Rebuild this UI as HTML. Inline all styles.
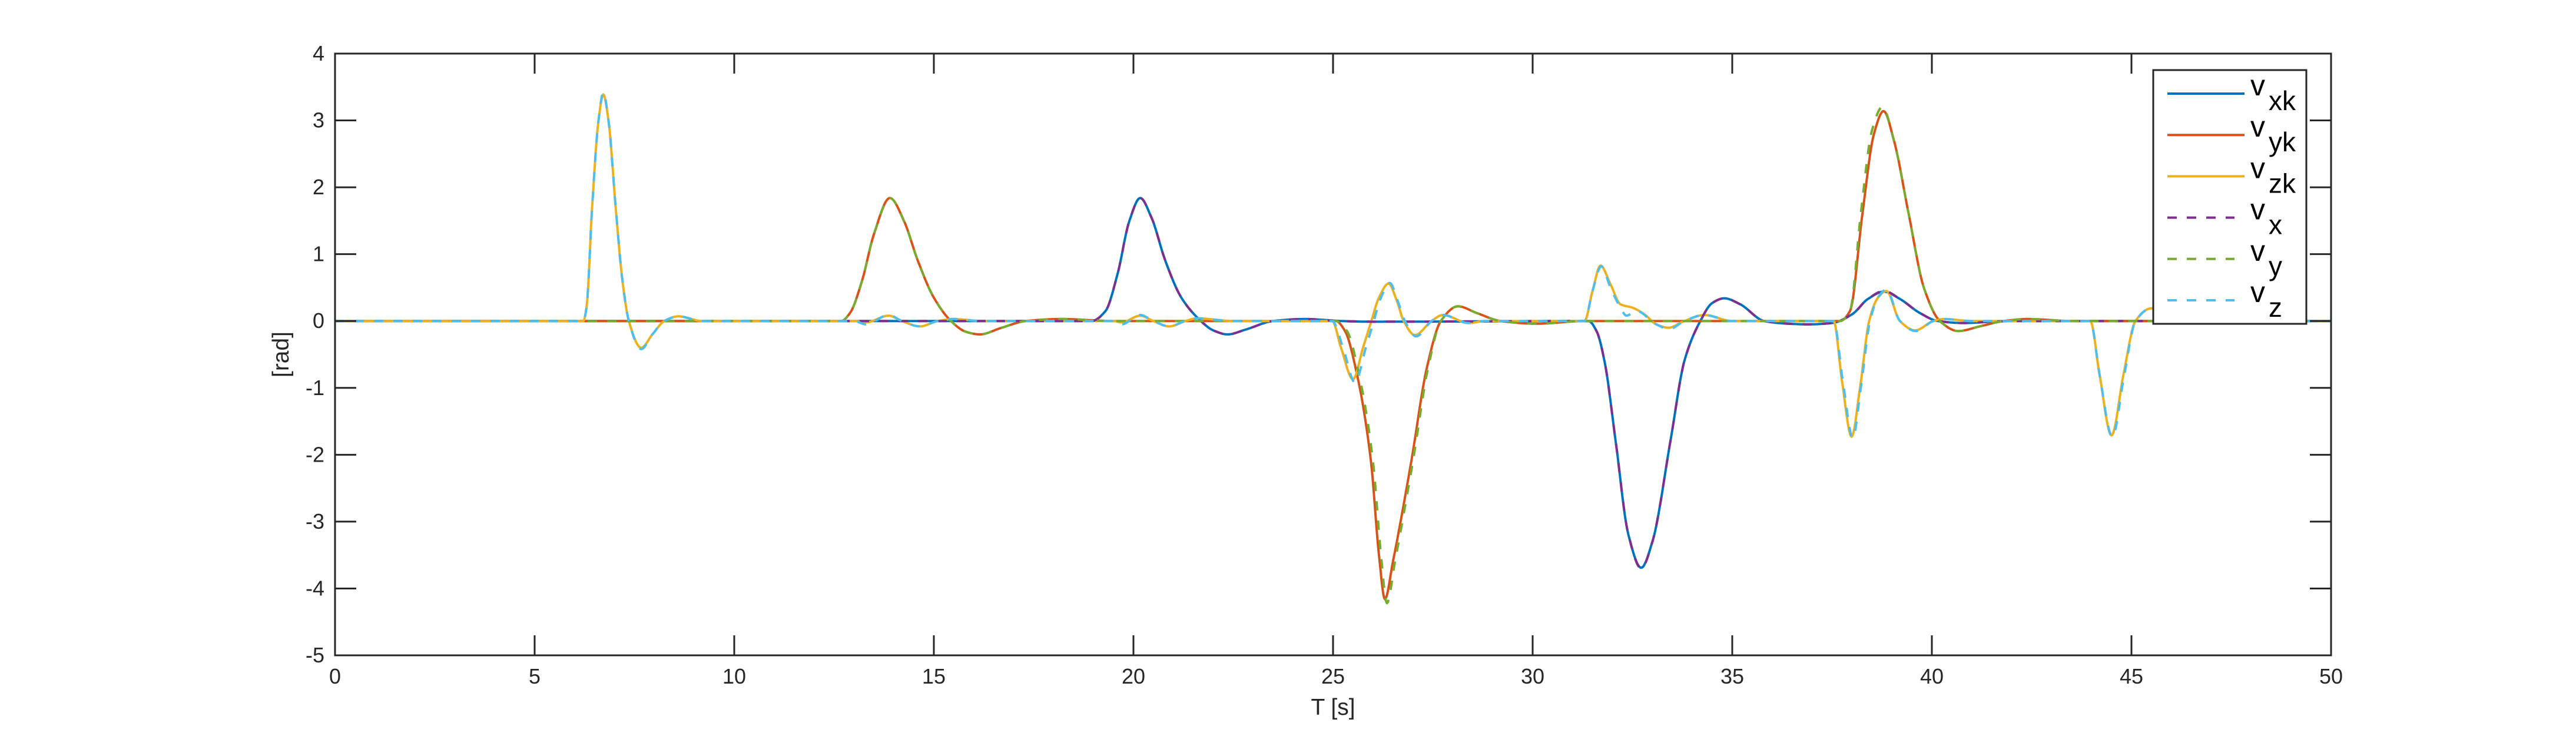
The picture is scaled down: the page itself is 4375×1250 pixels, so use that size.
<!DOCTYPE html>
<html><head><meta charset="utf-8"><style>
html,body{margin:0;padding:0;background:#fff}
svg{display:block;font-family:"Liberation Sans",sans-serif}
</style></head><body>
<svg id="chart" width="4375" height="1250" viewBox="0 0 4375 1250" xmlns="http://www.w3.org/2000/svg">
<defs><clipPath id="plotclip"><rect x="569" y="91" width="3390" height="1022"/></clipPath></defs>
<rect x="0" y="0" width="4375" height="1250" fill="#fff"/>
<g id="series" clip-path="url(#plotclip)"></g>
<g id="axes"></g>
<g id="legend"></g>
</svg>
<script>
const xTicks = [0,5,10,15,20,25,30,35,40,45,50];
const yTicks = [4,3,2,1,0,-1,-2,-3,-4,-5];
const xLabel = "T [s]";
const yLabel = "[rad]";

const vxkT = [0,18.95,19.3,19.6,19.9,20.17,20.45,20.8,21.2,21.69,22.0,22.36,22.8,23.5,24.3,25.2,26,31.4,31.6,31.8,32.08,32.4,32.72,33.0,33.45,33.8,34.2,34.5,34.8,35.2,35.8,36.4,36.9,37.5,38.0,38.4,38.8,39.2,39.7,40.15,40.8,41.5,42,50];
const vxkV = [0,0,0.15,0.7,1.5,1.84,1.55,0.9,0.35,0,-0.14,-0.2,-0.13,0,0.03,0,-0.01,0,-0.15,-0.6,-1.8,-3.2,-3.69,-3.3,-1.8,-0.6,0,0.27,0.34,0.25,0,-0.04,-0.05,-0.03,0.1,0.33,0.44,0.33,0.12,0,-0.03,-0.01,0,0];

const vykT = [0,12.68,12.9,13.2,13.5,13.9,14.25,14.6,15.0,15.43,15.8,16.15,16.7,17.3,18.2,19.5,25.07,25.3,25.6,25.95,26.15,26.3,26.5,26.96,27.35,27.7,28.13,28.6,29.2,30.1,31.3,37.7,37.95,38.26,38.55,38.79,39.05,39.42,39.8,40.2,40.66,41.2,41.8,42.4,43.5,50];
const vykV = [0,0,0.12,0.6,1.3,1.84,1.5,0.9,0.35,0,-0.16,-0.2,-0.1,0,0.03,0,0,-0.15,-0.8,-2.1,-3.5,-4.16,-3.6,-2.1,-0.7,0,0.22,0.12,0,-0.04,0,0,0.15,1.6,2.8,3.14,2.7,1.6,0.5,0,-0.15,-0.08,0,0.03,0,0];

const vzkT = [0,6.22,6.3,6.44,6.6,6.72,6.85,7.03,7.2,7.36,7.67,7.95,8.25,8.6,9.2,13.0,13.3,13.87,14.2,14.65,15.1,15.5,16.2,19.5,19.7,20.17,20.5,20.9,21.3,21.6,22.5,24.98,25.2,25.5,25.75,25.96,26.15,26.39,26.6,26.77,27.05,27.47,27.75,28.4,28.8,31.3,31.5,31.7,31.95,32.2,32.5,32.8,33.1,33.4,33.8,34.3,35.0,37.54,37.75,37.99,38.2,38.43,38.65,38.86,39.2,39.58,40.04,40.3,41,43.97,44.2,44.5,44.8,45.1,45.5,46.0,46.5,50];
const vzkV = [0,0,0.2,1.7,3.0,3.39,3.0,1.7,0.6,0,-0.4,-0.2,0,0.07,0,0,-0.02,0.08,0,-0.08,0,0.03,0,0,-0.02,0.08,0,-0.08,0,0.04,0,0,-0.4,-0.87,-0.4,0,0.35,0.56,0.3,0,-0.21,0,0.09,-0.03,0,0,0.45,0.83,0.55,0.25,0.2,0.1,-0.05,-0.1,0,0.09,0,0,-0.9,-1.73,-1.0,0,0.35,0.45,0,-0.14,0,0.03,0,0,-0.8,-1.71,-0.8,0,0.19,0.05,0,0];

const vxT = [0,18.95,19.3,19.6,19.9,20.17,20.45,20.8,21.2,21.69,22.0,22.36,22.8,23.5,24.3,25.2,26,31.4,31.6,31.8,32.08,32.4,32.72,33.0,33.45,33.8,34.2,34.5,34.8,35.2,35.8,36.4,36.9,37.5,38.0,38.4,38.8,39.2,39.7,40.15,40.8,41.5,42,50];
const vxV = [0,0,0.15,0.7,1.5,1.84,1.55,0.9,0.35,0,-0.14,-0.2,-0.13,0,0.03,0,-0.01,0,-0.15,-0.6,-1.8,-3.2,-3.7,-3.3,-1.8,-0.6,0,0.27,0.34,0.25,0,-0.04,-0.05,-0.03,0.1,0.33,0.45,0.33,0.12,0,-0.03,-0.01,0,0];

const vyT = [0,12.68,12.9,13.2,13.5,13.9,14.25,14.6,15.0,15.43,15.8,16.15,16.7,17.3,18.2,19.5,25.07,25.35,25.65,26.0,26.2,26.35,26.55,27.0,27.38,27.7,28.13,28.6,29.2,30.1,31.3,37.7,37.95,38.22,38.5,38.76,39.05,39.42,39.8,40.2,40.66,41.2,41.8,42.4,43.5,50];
const vyV = [0,0,0.12,0.6,1.3,1.84,1.5,0.9,0.35,0,-0.16,-0.2,-0.1,0,0.03,0,0,-0.15,-0.8,-2.1,-3.5,-4.22,-3.6,-2.1,-0.7,0,0.22,0.12,0,-0.04,0,0,0.15,1.6,2.85,3.2,2.7,1.6,0.5,0,-0.15,-0.08,0,0.03,0,0];

const vzT = [0,6.22,6.3,6.44,6.6,6.72,6.85,7.03,7.2,7.36,7.67,7.95,8.25,8.6,9.2,13.0,13.3,13.87,14.2,14.65,15.1,15.5,16.2,19.5,19.7,20.17,20.5,20.9,21.3,21.6,22.5,24.98,25.25,25.55,25.82,26.02,26.2,26.42,26.62,26.8,27.08,27.47,27.75,28.4,28.8,31.3,31.5,31.72,31.95,32.2,32.35,32.6,33.1,33.42,33.8,34.3,35.0,37.54,37.77,38.02,38.22,38.45,38.65,38.86,39.2,39.6,40.04,40.3,41,43.97,44.2,44.52,44.82,45.1,45.5,46.0,46.5,50];
const vzV = [0,0,0.2,1.7,3.0,3.42,3.0,1.7,0.6,0,-0.42,-0.2,0,0.07,0,0,-0.05,0.09,0,-0.08,0,0.03,0,0,-0.05,0.09,0,-0.08,0,0.04,0,0,-0.4,-0.92,-0.4,0,0.35,0.57,0.3,0,-0.23,0,0.09,-0.03,0,0,0.45,0.82,0.5,0.2,0.08,0.15,-0.05,-0.12,0,0.09,0,0,-0.9,-1.75,-1.0,0,0.35,0.47,0,-0.15,0,0.03,0,0,-0.8,-1.73,-0.8,0,0.19,0.05,0,0];

const L=569,R=3959,T=91,B=1113;
function xs(t){return L+(t-0)/(50-0)*(R-L);}
function ys(v){return B-(v-(-5))/(4-(-5))*(B-T);}
const NS="http://www.w3.org/2000/svg";
function mk(tag,attrs,parent){const e=document.createElementNS(NS,tag);for(const k in attrs)e.setAttribute(k,attrs[k]);parent.appendChild(e);return e;}

function monotone(ts,vs){
  const n=ts.length,d=[],m=new Array(n).fill(0);
  for(let i=0;i<n-1;i++)d.push((vs[i+1]-vs[i])/(ts[i+1]-ts[i]));
  m[0]=d[0];m[n-1]=d[n-2];
  for(let i=1;i<n-1;i++){
    if(d[i-1]*d[i]<=0)m[i]=0;
    else{const h0=ts[i]-ts[i-1],h1=ts[i+1]-ts[i];const w1=2*h1+h0,w2=h1+2*h0;m[i]=(w1+w2)/(w1/d[i-1]+w2/d[i]);}
  }
  const pts=[];
  for(let i=0;i<n-1;i++){
    const h=ts[i+1]-ts[i],steps=Math.max(2,Math.ceil(h*40));
    for(let s=0;s<steps;s++){
      const u=s/steps,h00=2*u*u*u-3*u*u+1,h10=u*u*u-2*u*u+u,h01=-2*u*u*u+3*u*u,h11=u*u*u-u*u;
      const v=h00*vs[i]+h10*h*m[i]+h01*vs[i+1]+h11*h*m[i+1];
      pts.push(xs(ts[i]+u*h).toFixed(1)+","+ys(v).toFixed(1));
    }
  }
  pts.push(xs(ts[n-1]).toFixed(1)+","+ys(vs[n-1]).toFixed(1));
  return pts.join(" ");
}

const sg=document.getElementById('series');
const series=[
 {name:'vxk',t:vxkT,v:vxkV,c:'#0072BD',dash:null},
 {name:'vyk',t:vykT,v:vykV,c:'#D95319',dash:null},
 {name:'vzk',t:vzkT,v:vzkV,c:'#EDB120',dash:null},
 {name:'vx',t:vxT,v:vxV,c:'#7E2F8E',dash:'16,17'},
 {name:'vy',t:vyT,v:vyV,c:'#77AC30',dash:'16,17'},
 {name:'vz',t:vzT,v:vzV,c:'#4DBEEE',dash:'16,17'}
];
series.forEach(s=>{
  const a={points:monotone(s.t,s.v),fill:'none',stroke:s.c,'stroke-width':4,'stroke-linejoin':'round'};
  if(s.dash)a['stroke-dasharray']=s.dash;
  const p=mk('polyline',a,sg);
  
  
});

const ag=document.getElementById('axes');
const frame=mk('rect',{x:L,y:T,width:R-L,height:B-T,fill:'none',stroke:'#262626','stroke-width':3},ag);


xTicks.forEach(t=>{
  const x=xs(t);
  mk('line',{x1:x,y1:B,x2:x,y2:B-34,stroke:'#262626','stroke-width':3},ag);
  mk('line',{x1:x,y1:T,x2:x,y2:T+34,stroke:'#262626','stroke-width':3},ag);
  const tx=mk('text',{x:x,y:1161,'font-size':36,'text-anchor':'middle',fill:'#262626'},ag);
  tx.textContent=t;
  
  
});
yTicks.forEach(v=>{
  const y=ys(v);
  mk('line',{x1:L,y1:y,x2:L+36,y2:y,stroke:'#262626','stroke-width':3},ag);
  mk('line',{x1:R,y1:y,x2:R-36,y2:y,stroke:'#262626','stroke-width':3},ag);
  const tx=mk('text',{x:551,y:y+12,'font-size':36,'text-anchor':'end',fill:'#262626'},ag);
  tx.textContent=v;
  
  
});
const xl=mk('text',{x:2264,y:1214,'font-size':39,'text-anchor':'middle',fill:'#262626'},ag);
xl.textContent=xLabel;


const yl=mk('text',{x:0,y:0,'font-size':39,'text-anchor':'middle',fill:'#262626',transform:'translate(490,602) rotate(-90)'},ag);
yl.textContent=yLabel;



const lg=document.getElementById('legend');
const lbox=mk('rect',{x:3657,y:119,width:260,height:431,fill:'#fff',stroke:'#262626','stroke-width':3},lg);


const subs=['xk','yk','zk','x','y','z'];
series.forEach((s,i)=>{
  const y=159+i*70.2;
  const g=mk('g',{},lg);
  
  
  const a={x1:3681,y1:y,x2:s.dash?3795:3812,y2:y,stroke:s.c,'stroke-width':4};
  if(s.dash)a['stroke-dasharray']=s.dash;
  mk('line',a,g);
  const tx=mk('text',{x:3822,y:y+3,'font-size':50,fill:'#000'},g);
  tx.textContent='v';
  const sb=mk('tspan',{x:3853,y:y+28,'font-size':46},tx);
  sb.textContent=subs[i];
});
</script>
</body></html>
